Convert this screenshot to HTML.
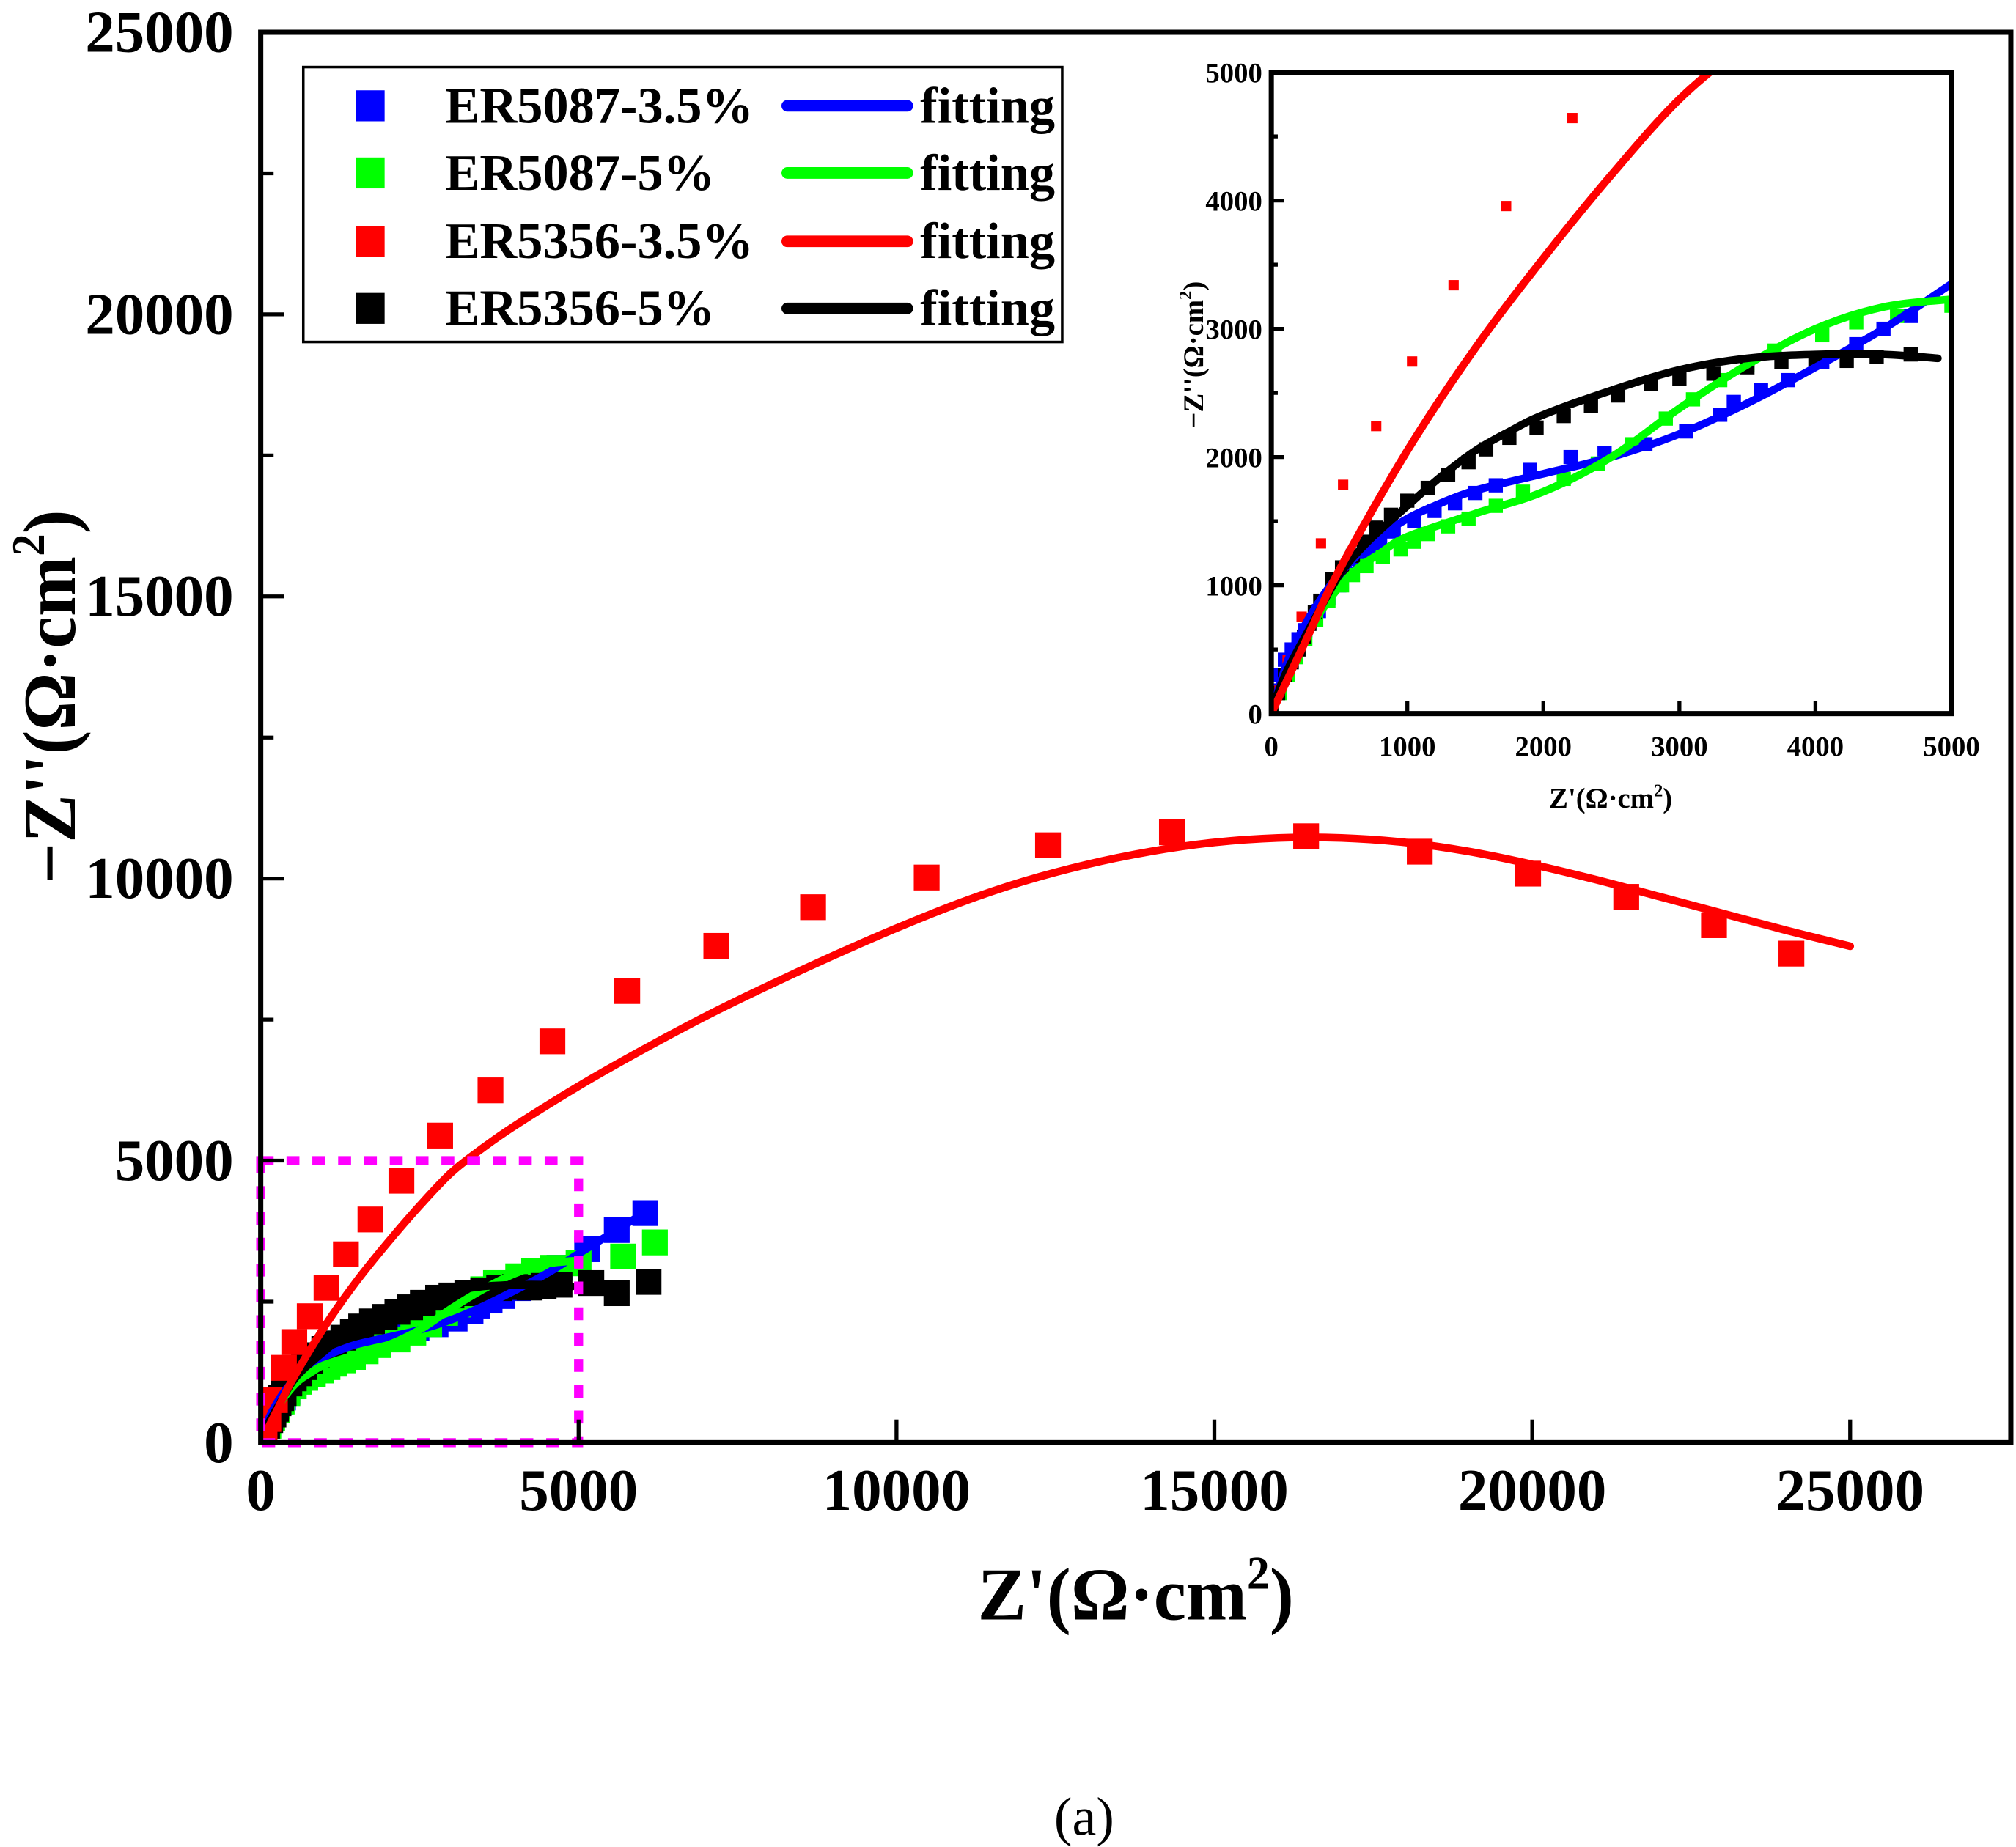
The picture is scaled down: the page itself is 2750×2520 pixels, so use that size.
<!DOCTYPE html>
<html><head><meta charset="utf-8"><style>
html,body{margin:0;padding:0;background:#fff;}
svg{display:block;}
text{font-family:"Liberation Serif",serif;font-weight:bold;fill:#000;}
</style></head><body>
<svg id="chart" width="2750" height="2520" viewBox="0 0 1562 1431.3" preserveAspectRatio="none" xmlns="http://www.w3.org/2000/svg">
<defs>
<clipPath id="mainClip"><rect x="202" y="25" width="1356" height="1093"/></clipPath>
<clipPath id="insetClip"><rect x="985" y="56" width="527" height="497"/></clipPath>
</defs>
<g id="main"></g>
<g id="inset"></g>
<g id="legend"></g>
<text x="880" y="1255" font-size="58" text-anchor="middle" textLength="245" lengthAdjust="spacingAndGlyphs">Z'(Ω·cm<tspan font-size="36" dy="-24">2</tspan><tspan dy="24">)</tspan></text>
<text transform="translate(58,540) rotate(-90)" font-size="58" text-anchor="middle" textLength="290" lengthAdjust="spacingAndGlyphs">−Z''(Ω·cm<tspan font-size="36" dy="-24">2</tspan><tspan dy="24">)</tspan></text>
<text x="840" y="1422" font-size="42" style="font-weight:normal" text-anchor="middle">(a)</text>
</svg>
<script>
// ---- data ----
const redX=[0,60,120,223,365,528,771,1035,1340,1726,2213,2822,3614,4588,5765,7166,8688,10475,12383,14332,16443,18230,19935,21478,22858,24076];
const redY=[0,180,420,755,1327,1784,2242,2745,3340,3957,4643,5444,6245,7114,8006,8806,9492,10018,10590,10819,10750,10476,10087,9675,9172,8669];
const redFitX=[0,250,500,1000,1500,2000,2500,3000,3500,4000,5000,6000,7000,8000,9000,10000,11000,12000,13000,14000,15000,16000,17000,18000,19000,20000,21000,22000,23000,24000,25000];
const redFitY=[0,560,1120,2050,2850,3550,4200,4790,5230,5620,6320,6960,7560,8110,8630,9120,9570,9950,10250,10480,10640,10720,10720,10640,10480,10250,9980,9680,9380,9080,8800];
const blueX=[0,30,50,100,150,200,250,300,350,420,500,570,650,720,800,900,1050,1200,1350,1500,1650,1900,2200,2450,2750,3050,3300,3400,3600,3800,4050,4300,4500,4700,5135,5600,6050];
const blueY=[0,180,300,420,500,580,650,730,800,900,1000,1090,1170,1250,1330,1420,1500,1580,1640,1720,1780,1900,2000,2030,2100,2200,2330,2430,2520,2600,2740,2880,3000,3100,3430,3770,4070];
const blueFitX=[0,100,200,400,600,800,1000,1200,1500,2000,2500,3000,3500,4000,4500,5000,5500,6000];
const blueFitY=[0,350,600,950,1200,1380,1520,1620,1740,1870,2000,2180,2420,2700,3000,3350,3700,4050];
const greenX=[0,60,120,180,250,330,420,520,600,700,820,950,1050,1150,1300,1450,1650,1850,2150,2400,2650,2900,3100,3300,3500,3700,4050,4300,4600,5000,5700,6200];
const greenY=[0,160,300,440,580,730,880,1000,1080,1150,1220,1280,1340,1400,1460,1520,1620,1730,1830,1950,2100,2300,2450,2600,2720,2830,2950,3050,3100,3180,3300,3550];
const greenFitX=[0,200,400,600,800,1000,1500,2000,2500,3000,3500,4000,4500,5000];
const greenFitY=[0,500,850,1100,1250,1380,1560,1730,2000,2380,2720,3000,3170,3230];
const blackX=[0,50,100,150,200,240,280,320,360,450,520,600,680,770,880,1000,1150,1300,1450,1580,1750,1950,2150,2350,2550,2790,3000,3250,3500,3750,4000,4230,4450,4700,5200,5600,6100];
const blackY=[0,160,300,400,500,600,700,790,880,1050,1140,1230,1340,1450,1550,1660,1760,1860,1960,2060,2150,2230,2320,2400,2480,2570,2610,2650,2700,2740,2760,2750,2780,2800,2830,2650,2850];
const blackFitX=[0,100,300,500,700,1000,1250,1500,1750,2000,2500,3000,3500,4000,4500,4900];
const blackFitY=[0,300,700,1080,1330,1620,1850,2050,2200,2330,2520,2680,2770,2800,2800,2770];
const mainXTicks=[0,5000,10000,15000,20000,25000];
const mainYTicks=[0,5000,10000,15000,20000,25000];
const insetTicks=[0,1000,2000,3000,4000,5000];
const legendNames=["ER5087-3.5%","ER5087-5%","ER5356-3.5%","ER5356-5%"];

const NS="http://www.w3.org/2000/svg";
function mk(tag,attrs,parent){const e=document.createElementNS(NS,tag);for(const k in attrs)e.setAttribute(k,attrs[k]);parent.appendChild(e);return e;}
const mx=v=>202+v/5000*246.3, my=v=>1118-v/5000*218.6;
const ix=v=>985+v/5000*527, iy=v=>553-v/5000*497;

const series=[
 {name:"er5087-3-5",c:"#0000ff",x:blueX,y:blueY,fx:blueFitX,fy:blueFitY},
 {name:"er5087-5",c:"#00ff00",x:greenX,y:greenY,fx:greenFitX,fy:greenFitY},
 {name:"er5356-5",c:"#000000",x:blackX,y:blackY,fx:blackFitX,fy:blackFitY},
 {name:"er5356-3-5",c:"#ff0000",x:redX,y:redY,fx:redFitX,fy:redFitY}
];

function smoothPath(pts){
  let d="M"+pts[0][0]+","+pts[0][1];
  for(let i=0;i<pts.length-1;i++){
    const p0=pts[Math.max(i-1,0)],p1=pts[i],p2=pts[i+1],p3=pts[Math.min(i+2,pts.length-1)];
    const c1x=p1[0]+(p2[0]-p0[0])/6,c1y=p1[1]+(p2[1]-p0[1])/6;
    const c2x=p2[0]-(p3[0]-p1[0])/6,c2y=p2[1]-(p3[1]-p1[1])/6;
    d+=" C"+c1x+","+c1y+" "+c2x+","+c2y+" "+p2[0]+","+p2[1];
  }
  return d;
}

function drawPlot(g,X,Y,clip,ms,redMs,prefix,fitW){
  const cg=mk("g",{"clip-path":"url(#"+clip+")"},g);
  series.forEach(s=>{
    const size = s.name==="er5356-3-5"?redMs:ms;
    s.x.forEach((v,i)=>{
      const r=mk("rect",{x:X(v)-size/2,y:Y(s.y[i])-size/2,width:size,height:size,fill:s.c},cg);
      
      
    });
  });
  series.forEach(s=>{
    const pts=s.fx.map((v,i)=>[X(v),Y(s.fy[i])]);
    const p=mk("path",{d:smoothPath(pts),fill:"none",stroke:s.c,"stroke-width":fitW,"stroke-linejoin":"round","stroke-linecap":"round"},cg);
    
    
  });
}

const main=document.getElementById("main");
drawPlot(main,mx,my,"mainClip",20,20,"main",6);
const dash=mk("rect",{x:mx(0),y:my(5000),width:mx(5000)-mx(0),height:my(0)-my(5000),fill:"none",stroke:"#ff00ff","stroke-width":7,"stroke-dasharray":"10 10"},main);


const frame=mk("rect",{x:202,y:25,width:1356,height:1093,fill:"none",stroke:"#000","stroke-width":4},main);


mainXTicks.forEach(v=>{
  mk("line",{x1:mx(v),x2:mx(v),y1:1118,y2:1100,stroke:"#000","stroke-width":3},main);
  const t=mk("text",{x:mx(v),y:1170,"font-size":46,"text-anchor":"middle"},main);
  t.textContent=v;
  
  
});
mainYTicks.forEach(v=>{
  mk("line",{x1:202,x2:220,y1:my(v),y2:my(v),stroke:"#000","stroke-width":3},main);
  if(v<25000) mk("line",{x1:202,x2:212,y1:my(v+2500),y2:my(v+2500),stroke:"#000","stroke-width":3},main);
  const t=mk("text",{x:181,y:my(v)+15,"font-size":46,"text-anchor":"end"},main);
  t.textContent=v;
  
  
});

const inset=document.getElementById("inset");
mk("rect",{x:985,y:56,width:527,height:497,fill:"#fff"},inset);
drawPlot(inset,ix,iy,"insetClip",11,8,"inset",6);
const iframe=mk("rect",{x:985,y:56,width:527,height:497,fill:"none",stroke:"#000","stroke-width":4},inset);


insetTicks.forEach(v=>{
  mk("line",{x1:ix(v),x2:ix(v),y1:553,y2:543,stroke:"#000","stroke-width":3},inset);
  mk("line",{x1:985,x2:995,y1:iy(v),y2:iy(v),stroke:"#000","stroke-width":3},inset);
  if(v<5000) mk("line",{x1:985,x2:990,y1:iy(v+500),y2:iy(v+500),stroke:"#000","stroke-width":3},inset);
  const t=mk("text",{x:ix(v),y:586,"font-size":22,"text-anchor":"middle"},inset);
  t.textContent=v;
  
  
  const u=mk("text",{x:978,y:iy(v)+8,"font-size":22,"text-anchor":"end"},inset);
  u.textContent=v;
  
  
});
const ixt=mk("text",{x:1248,y:626,"font-size":22,"text-anchor":"middle"},inset);
ixt.innerHTML="Z'(Ω·cm<tspan font-size='14' dy='-9'>2</tspan><tspan dy='9'>)</tspan>";


const iyt=mk("text",{transform:"translate(932,275) rotate(-90)","font-size":22,"text-anchor":"middle"},inset);
iyt.innerHTML="−Z''(Ω·cm<tspan font-size='14' dy='-9'>2</tspan><tspan dy='9'>)</tspan>";



const lg=document.getElementById("legend");
mk("rect",{x:235,y:52,width:588,height:213,fill:"#fff",stroke:"#000","stroke-width":2},lg);
const lcols=["#0000ff","#00ff00","#ff0000","#000000"];
const rows=[82,134,187,239];
legendNames.forEach((n,i)=>{
  const y=rows[i];
  const m=mk("rect",{x:276,y:y-12,width:22,height:24,fill:lcols[i]},lg);
  
  
  const t=mk("text",{x:345,y:y+13,"font-size":40},lg);
  t.textContent=n;
  
  
  const l=mk("line",{x1:610,x2:703,y1:y,y2:y,stroke:lcols[i],"stroke-width":9,"stroke-linecap":"round"},lg);
  
  
  const f=mk("text",{x:713,y:y+13,"font-size":40},lg);
  f.textContent="fitting";
  
  
});
</script>
</body></html>
